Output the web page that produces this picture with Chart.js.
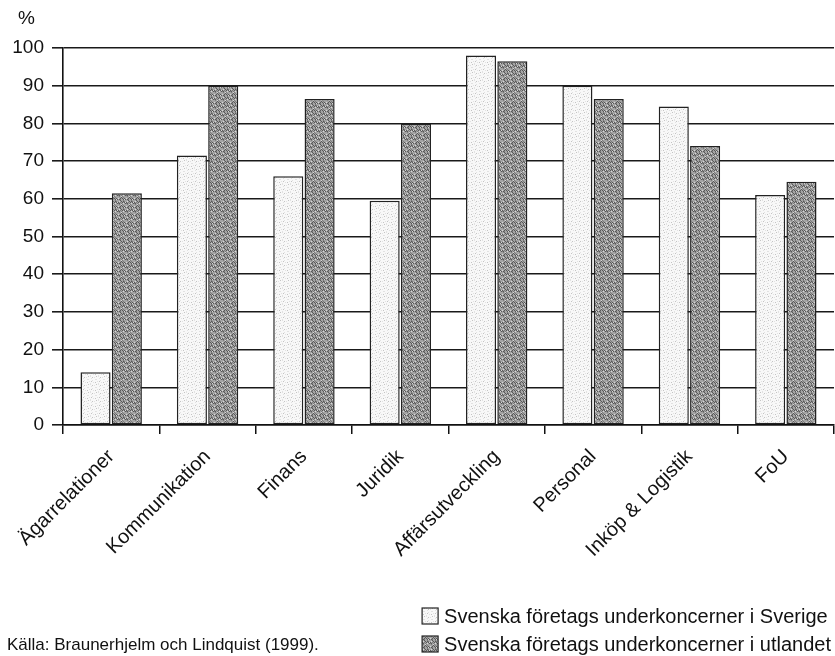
<!DOCTYPE html>
<html><head><meta charset="utf-8">
<script src="https://cdn.jsdelivr.net/npm/chart.js@4.4.1/dist/chart.umd.min.js"></script>
<style>html,body{margin:0;padding:0;background:#fff;}#wrap{position:relative;width:835px;height:656px;}</style>
</head><body><div id="wrap"><canvas id="c" width="835" height="656"></canvas></div>
<script>
const categories = ['Ägarrelationer', 'Kommunikation', 'Finans', 'Juridik', 'Affärsutveckling', 'Personal', 'Inköp & Logistik', 'FoU'];
const seriesNames = ['Svenska företags underkoncerner i Sverige', 'Svenska företags underkoncerner i utlandet'];
const sverige = [14, 71.5, 66, 59.5, 98, 90, 84.5, 61];
const utlandet = [61.5, 90, 86.5, 80, 96.5, 86.5, 74, 64.5];
const yTicks = [0, 10, 20, 30, 40, 50, 60, 70, 80, 90, 100];
const unitLabel = '%';
const sourceNote = 'Källa: Braunerhjelm och Lindquist (1999).';

const FONT = '"Liberation Sans", Arial, Helvetica, sans-serif';

function makePattern(base, marks) {
  const t = document.createElement('canvas');
  t.width = 8; t.height = 8;
  const g = t.getContext('2d');
  g.fillStyle = base; g.fillRect(0, 0, 8, 8);
  for (let y = 0; y < 8; y++) {
    for (let x = 0; x < 8; x++) {
      for (const m of marks) {
        if (m.test(x, y)) { g.fillStyle = m.color; g.fillRect(x, y, 1, 1); break; }
      }
    }
  }
  return document.getElementById('c').getContext('2d').createPattern(t, 'repeat');
}
const lightFill = makePattern('#f8f8f8', [
  {color: '#c4c4c4', test: (x, y) => (x * 3 + y * 5) % 17 === 0},
  {color: '#e2e2e2', test: (x, y) => (x + y * 3) % 7 === 2}
]);
const darkFill = makePattern('#a4a4a4', [
  {color: '#585858', test: (x, y) => (x + y) % 2 === 0 && (x * 3 + y * 5) % 7 < 3},
  {color: '#d6d6d6', test: (x, y) => (x * 5 + y) % 9 === 0},
  {color: '#7c7c7c', test: (x, y) => (x * 2 + y * 3) % 5 === 1}
]);

const extras = {
  id: 'extras',
  afterDraw(chart) {
    const ctx = chart.ctx;
    ctx.save();
    ctx.fillStyle = '#111';
    ctx.textBaseline = 'middle';
    ctx.textAlign = 'left';
    ctx.font = '19px ' + FONT;
    ctx.fillText(unitLabel, 18, 19);
    // legend
    ctx.font = '20px ' + FONT;
    const rows = [616, 644];
    const ds = chart.data.datasets;
    const widths = ds.map(d => ctx.measureText(d.label).width);
    const tx = 831 - Math.max(...widths);
    ds.forEach((d, i) => {
      const y = rows[i];
      ctx.fillStyle = d.backgroundColor;
      ctx.fillRect(tx - 22, y - 8, 16, 16);
      ctx.strokeStyle = '#222'; ctx.lineWidth = 1.2;
      ctx.strokeRect(tx - 22, y - 8, 16, 16);
      ctx.fillStyle = '#111';
      ctx.fillText(d.label, tx, y + 1);
    });
    ctx.font = '17px ' + FONT;
    ctx.fillText(sourceNote, 7, 645);
    ctx.restore();
  }
};

new Chart(document.getElementById('c'), {
  type: 'bar',
  data: {
    labels: categories,
    datasets: [
      {label: seriesNames[0], data: sverige, backgroundColor: lightFill, borderColor: '#222', borderWidth: 1.5, borderSkipped: false, barPercentage: 0.96, categoryPercentage: 0.65},
      {label: seriesNames[1], data: utlandet, backgroundColor: darkFill, borderColor: '#222', borderWidth: 1.5, borderSkipped: false, barPercentage: 0.96, categoryPercentage: 0.65}
    ]
  },
  options: {
    responsive: false, animation: false, devicePixelRatio: 1,
    layout: {padding: {top: 48, right: 1, left: 0, bottom: 0}},
    plugins: {legend: {display: false}, tooltip: {enabled: false}},
    scales: {
      x: {
        afterFit: s => { s.height = 231; },
        grid: {display: true, drawOnChartArea: false, color: '#111', lineWidth: 1.5, tickLength: 9, offset: true},
        border: {color: '#111', width: 1.6},
        ticks: {minRotation: 45, maxRotation: 45, autoSkip: false, padding: 11, color: '#111', font: {size: 20, family: FONT}}
      },
      y: {
        min: 0, max: 100,
        afterFit: s => { s.width = 63; },
        afterBuildTicks: s => { s.ticks = yTicks.map(v => ({value: v})); },
        grid: {color: '#1a1a1a', lineWidth: 1.6, tickLength: 11},
        border: {color: '#111', width: 1.6},
        ticks: {padding: 8, color: '#111', font: {size: 19, family: FONT}}
      }
    }
  },
  plugins: [extras]
});
</script></body></html>
